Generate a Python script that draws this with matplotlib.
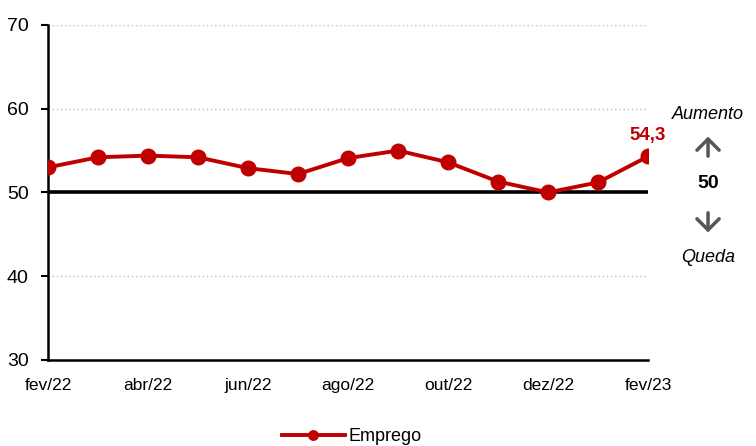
import matplotlib

matplotlib.use("Agg")
import matplotlib.pyplot as plt

plt.rcParams["font.family"] = ["Liberation Sans Narrow", "Liberation Sans", "DejaVu Sans"]

months = ["fev/22", "mar/22", "abr/22", "mai/22", "jun/22", "jul/22", "ago/22",
          "set/22", "out/22", "nov/22", "dez/22", "jan/23", "fev/23"]
emprego = [53.0, 54.2, 54.4, 54.2, 52.9, 52.2, 54.1, 55.0, 53.6, 51.3, 50.0, 51.2, 54.3]
yticks = [30, 40, 50, 60, 70]

red = "#C00000"
grey = "#555555"

fig = plt.figure(figsize=(7.56, 4.46), dpi=100)
ax = fig.add_axes([0.0635, 0.193, 0.7937, 0.751])

x = list(range(len(months)))
for y in [40, 60, 70]:
    ax.axhline(y, color="#BBBBBB", linestyle=(0, (1, 2)), linewidth=1, zorder=1)
ax.axhline(50, color="black", linewidth=2.6, zorder=2)

ax.plot(x, emprego, color=red, linewidth=2.8, marker="o", markersize=10.5,
        label="Emprego", zorder=3)

ax.annotate(f"{emprego[-1]:.1f}".replace(".", ","), (x[-1], emprego[-1]),
            xytext=(0, 9), textcoords="offset points", ha="center", va="bottom",
            color=red, fontsize=13.5, fontweight="bold")

ax.set_xlim(0, 12)
ax.set_ylim(30, 70)
ax.set_xticks(x[::2])
ax.set_xticklabels(months[::2], fontsize=12.5)
ax.set_yticks(yticks)
ax.set_yticklabels([str(v) for v in yticks], fontsize=14)
ax.tick_params(axis="x", length=0, pad=13)
ax.tick_params(axis="y", length=5, width=1.5, pad=9)
for side in ["top", "right"]:
    ax.spines[side].set_visible(False)
for side in ["left", "bottom"]:
    ax.spines[side].set_linewidth(1.8)

# side legend for the 50 threshold
xs = 13.2
ax.text(xs, 59.3, "Aumento", style="italic", fontsize=13, ha="center", va="center",
        clip_on=False)
ax.text(xs, 51.1, "50", fontweight="bold", fontsize=14, ha="center", va="center",
        clip_on=False)
ax.text(xs, 42.2, "Queda", style="italic", fontsize=13, ha="center", va="center",
        clip_on=False)
ax.annotate("", xy=(xs, 57.0), xytext=(xs, 54.0), annotation_clip=False,
            arrowprops=dict(arrowstyle="->,head_length=0.5,head_width=0.5",
                            color=grey, lw=2.5, mutation_scale=16))
ax.annotate("", xy=(xs, 44.9), xytext=(xs, 47.9), annotation_clip=False,
            arrowprops=dict(arrowstyle="->,head_length=0.5,head_width=0.5",
                            color=grey, lw=2.5, mutation_scale=16))

fig.legend(loc="lower center", bbox_to_anchor=(0.465, -0.035), frameon=False,
           fontsize=13, markerscale=0.65, handlelength=3.5, handletextpad=0.2)

fig.savefig("out.png", dpi=100)
